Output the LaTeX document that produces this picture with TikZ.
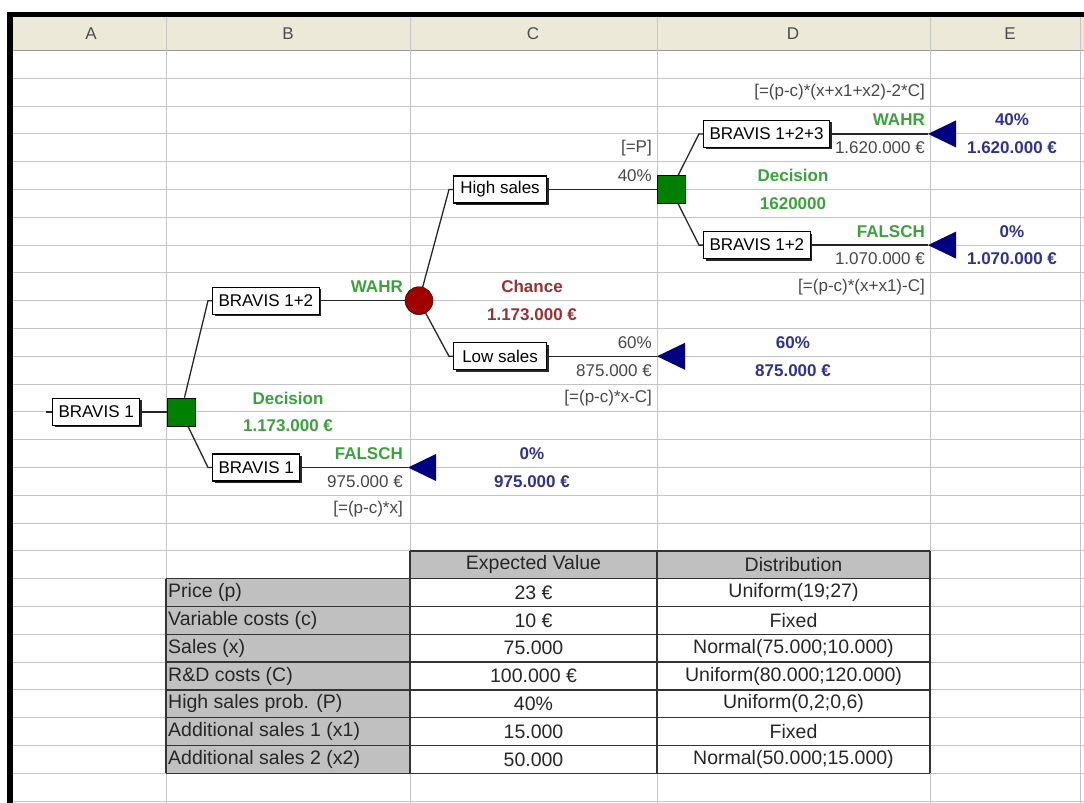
\documentclass[tikz,border=0pt]{standalone}
\usepackage{fontspec}
\setmainfont{Liberation Sans}
\usepackage{tikz}
\usetikzlibrary{shadows}
\definecolor{gridgray}{RGB}{196,196,196}
\definecolor{hdrbg}{RGB}{236,233,216}
\definecolor{decgreen}{RGB}{0,128,0}
\definecolor{txtgreen}{RGB}{60,160,60}
\definecolor{chancered}{RGB}{160,0,0}
\definecolor{txtred}{RGB}{150,50,50}
\definecolor{trinavy}{RGB}{0,0,128}
\definecolor{txtblue}{RGB}{50,50,140}
\definecolor{cellgray}{RGB}{192,192,192}
\tikzset{grid/.style={draw=gridgray,line width=1pt},
 tabline/.style={draw=black!80,line width=1.5pt},
 box/.style={draw=black,fill=white,line width=1.1pt,minimum height=27pt,
   inner xsep=6pt,inner ysep=0pt,anchor=west,
   drop shadow={shadow xshift=2pt,shadow yshift=-2pt,fill=black,opacity=.85}},
 dec/.style={draw=black,fill=decgreen,minimum size=28pt,inner sep=0pt},
 chance/.style={circle,draw=black,fill=chancered,minimum size=28pt,inner sep=0pt},
 con/.style={draw=black!85,line width=1.3pt},
 lblgray/.style={text=black!72,inner sep=0pt},
 lblgreen/.style={text=txtgreen,inner sep=0pt,font=\fontsize{17}{20}\selectfont\bfseries},
 lblred/.style={text=txtred,inner sep=0pt,font=\fontsize{17}{20}\selectfont\bfseries},
 lblblue/.style={text=txtblue,inner sep=0pt,font=\fontsize{17}{20}\selectfont\bfseries},
 colhdr/.style={text=black!70,inner sep=0pt},
 tabtext/.style={text=black!85,inner sep=0pt,font=\fontsize{19.5}{22}\selectfont},
}

\begin{document}
\begin{tikzpicture}[x=1pt,y=-27.8pt,font=\fontsize{17}{20}\selectfont]
\useasboundingbox (0,-1.8165) rectangle (1084,27.068);
% sheet: header, grid and frame
\fill[hdrbg] (13,-1.205) rectangle (1084,0);
\foreach \i in {1,...,27}
  \draw[grid] (13,\i) -- (1084,\i);
\draw[draw=black!40,line width=1pt] (13,0) -- (1084,0);
\foreach \x in {166,410,657,930,1080}
  \draw[grid] (\x,-1.205) -- (\x,27.1);
\fill[black] (7,-1.367) rectangle (1084,-1.205);
\fill[black] (7,-1.367) rectangle (13,27.1);
\foreach \c/\x in {A/91,B/288,C/533,D/793,E/1010}
  \node[colhdr] (h\c) at (\x,-0.6) {\c};

% tree nodes
\coordinate (in) at (46,13);
\node[box] (b1) at (52,13) {BRAVIS 1};
\node[dec] (d1) at (181,13) {};
\node[box] (b12) at (212,9) {BRAVIS 1+2};
\node[box] (bl) at (212,15) {BRAVIS 1};
\node[chance] (ch) at (419,9) {};
\node[box,minimum width=93pt] (hs) at (453,5) {High sales};
\node[box,minimum width=93pt] (ls) at (453,11) {Low sales};
\node[dec] (d2) at (671,5) {};
\node[box] (b123) at (703,3) {BRAVIS 1+2+3};
\node[box] (b12r) at (703,7) {BRAVIS 1+2};
\coordinate (t1) at (408,15);
\coordinate (t2) at (657,11);
\coordinate (t3) at (928,3);
\coordinate (t4) at (928,7);
\foreach \t in {t1,t2,t3,t4}
  \fill[trinavy] (\t) -- ++(28pt,13.5pt) -- ++(0pt,-27pt) -- cycle;

% connectors
\draw[con] (in) -- (b1);
\draw[con] (b1) -- (d1);
\draw[con] (d1) -- ([xshift=-4pt]b12.west) -- (b12.west);
\draw[con] (d1) -- ([xshift=-4pt]bl.west) -- (bl.west);
\draw[con] (b12) -- (ch);
\draw[con] (bl) -- (t1);
\draw[con] (ch) -- ([xshift=-4pt]hs.west) -- (hs.west);
\draw[con] (ch) -- ([xshift=-4pt]ls.west) -- (ls.west);
\draw[con] (hs) -- (d2);
\draw[con] (ls) -- (t2);
\draw[con] (d2) -- ([xshift=-4pt]b123.west) -- (b123.west);
\draw[con] (d2) -- ([xshift=-4pt]b12r.west) -- (b12r.west);
\draw[con] (b123) -- (t3);
\draw[con] (b12r) -- (t4);

% labels, column B
\node[lblgreen,anchor=east] (wahrB) at (403,8.5) {WAHR};
\node[lblgreen] (decB) at (288,12.5) {Decision};
\node[lblgreen] (decvalB) at (288,13.5) {1.173.000 €};
\node[lblgreen,anchor=east] (falschB) at (403,14.5) {FALSCH};
\node[lblgray,anchor=east] (payB) at (403,15.5) {975.000 €};
\node[lblgray,anchor=east] (frmB) at (403,16.5) {[=(p-c)*x]};
% labels, column C
\node[lblgray,anchor=east] (frmP) at (652,3.5) {[=P]};
\node[lblgray,anchor=east] (probH) at (652,4.5) {40\%};
\node[lblred] (chC) at (532,8.5) {Chance};
\node[lblred] (chvalC) at (532,9.5) {1.173.000 €};
\node[lblgray,anchor=east] (probL) at (652,10.5) {60\%};
\node[lblgray,anchor=east] (payL) at (652,11.5) {875.000 €};
\node[lblgray,anchor=east] (frmL) at (652,12.5) {[=(p-c)*x-C]};
\node[lblblue] (pctB) at (532,14.5) {0\%};
\node[lblblue] (resB) at (532,15.5) {975.000 €};
% labels, column D
\node[lblgray,anchor=east] (frm123) at (925,1.5) {[=(p-c)*(x+x1+x2)-2*C]};
\node[lblgreen,anchor=east] (wahrD) at (925,2.5) {WAHR};
\node[lblgray,anchor=east] (pay123) at (925,3.5) {1.620.000 €};
\node[lblgreen] (decD) at (793,4.5) {Decision};
\node[lblgreen] (decvalD) at (793,5.5) {1620000};
\node[lblgreen,anchor=east] (falschD) at (925,6.5) {FALSCH};
\node[lblgray,anchor=east] (pay12) at (925,7.5) {1.070.000 €};
\node[lblgray,anchor=east] (frm12) at (925,8.5) {[=(p-c)*(x+x1)-C]};
\node[lblblue] (pctL) at (793,10.5) {60\%};
\node[lblblue] (resL) at (793,11.5) {875.000 €};
% labels, column E
\node[lblblue] (pct123) at (1012,2.5) {40\%};
\node[lblblue] (res123) at (1012,3.5) {1.620.000 €};
\node[lblblue] (pct12) at (1012,6.5) {0\%};
\node[lblblue] (res12) at (1012,7.5) {1.070.000 €};

% input table
\fill[cellgray] (410,18) rectangle (930,19);
\fill[cellgray] (166,19) rectangle (410,26);
\foreach \i in {19,...,26}
  \draw[tabline] (166,\i) -- (930,\i);
\draw[tabline] (410,18) -- (930,18);
\draw[tabline] (166,19) -- (166,26);
\foreach \x in {410,657,930}
  \draw[tabline] (\x,18) -- (\x,26);
\node[tabtext] (hdrEV) at (533.5,18.5) {Expected Value};
\node[tabtext] (hdrDist) at (793.5,18.5) {Distribution};
\foreach \lab/\ev/\dist [count=\n] in {Price (p)/23 €/Uniform(19;27),
    Variable costs (c)/10 €/Fixed,
    Sales (x)/75.000/Normal(75.000;10.000),
    R\&D costs (C)/100.000 €/Uniform(80.000;120.000),
    {High sales prob. (P)/40\%/Uniform(0,2;0,6)},
    Additional sales 1 (x1)/15.000/Fixed,
    Additional sales 2 (x2)/50.000/Normal(50.000;15.000)} {
  \node[tabtext,anchor=west] (lab\n) at (168,\n+18.5) {\lab};
  \node[tabtext] (ev\n) at (533.5,\n+18.5) {\ev};
  \node[tabtext] (dist\n) at (793.5,\n+18.5) {\dist};
}
\end{tikzpicture}
\end{document}
